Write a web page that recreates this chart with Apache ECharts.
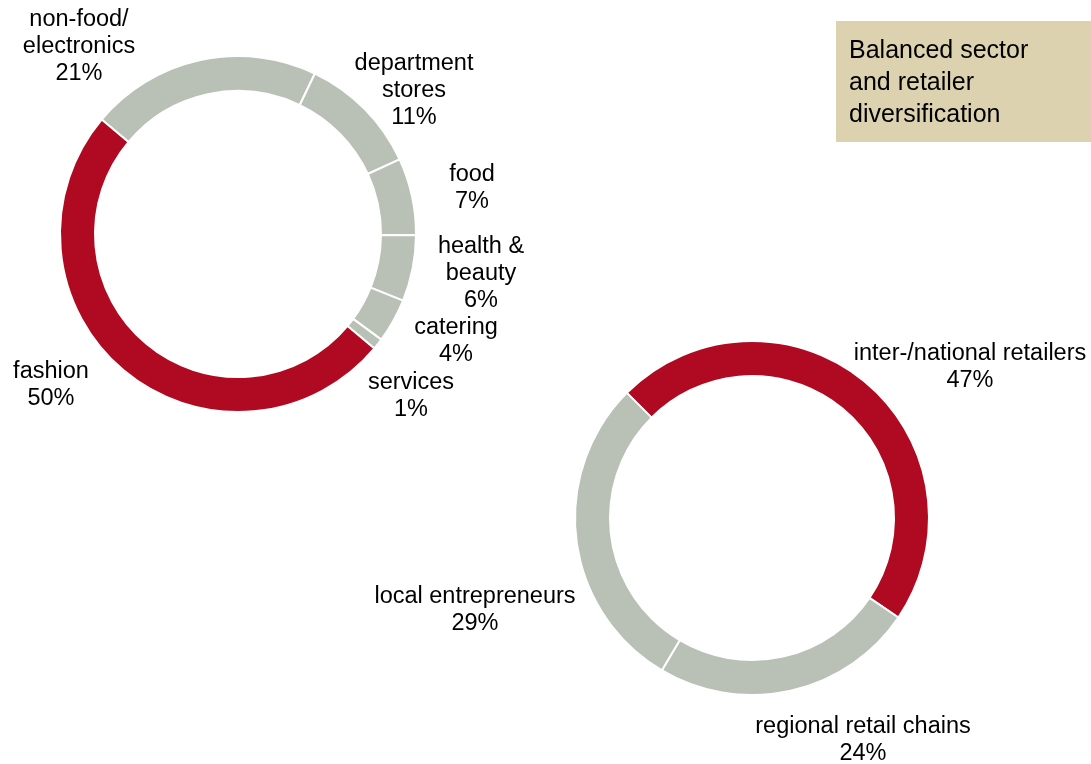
<!DOCTYPE html>
<html>
<head>
<meta charset="utf-8">
<script src="https://cdn.jsdelivr.net/npm/echarts@6/dist/echarts.min.js"></script>
<style>
html,body{margin:0;padding:0;background:#fff;}
#main{width:1091px;height:764px;}
</style>
</head>
<body>
<div id="main"></div>
<script>
// Sector split (left donut)
const sectorNames = ['non-food/\nelectronics', 'department\nstores', 'food', 'health &\nbeauty', 'catering', 'services', 'fashion'];
const sectorValues = [21, 11, 7, 6, 4, 1, 50];
// Retailer split (right donut)
const retailerNames = ['inter-/national retailers', 'regional retail chains', 'local entrepreneurs'];
const retailerValues = [47, 24, 29];
const titleText = 'Balanced sector\nand retailer\ndiversification';

const RED = '#AF0A21';
const GREY = '#B9C0B5';
const sectorColors = [GREY, GREY, GREY, GREY, GREY, GREY, RED];
const retailerColors = [RED, GREY, GREY];

// label anchor points (centre of each text block)
const sectorLabelPos = [[79, 47], [414, 91], [472, 188], [481, 274], [456, 341], [411, 396], [51, 385]];
const retailerLabelPos = [[970, 367], [863, 740], [475, 610]];

const FONT = 'Liberation Sans, Arial, sans-serif';

function buildData(names, values, colors) {
  return names.map((n, i) => ({ name: n, value: values[i], itemStyle: { color: colors[i] } }));
}

const labelStyle = {
  show: true,
  position: 'outside',
  formatter: p => p.name + '\n' + p.value + '%',
  color: '#000',
  fontFamily: FONT,
  fontSize: 23.5,
  lineHeight: 27,
  align: 'center',
  overflow: 'none',
  alignTo: 'none'
};

const chart = echarts.init(document.getElementById('main'), null, { renderer: 'canvas' });
chart.setOption({
  animation: false,
  backgroundColor: '#fff',
  series: [
    {
      type: 'pie',
      center: [238, 234],
      radius: [143, 178],
      startAngle: 140,
      clockwise: true,
      silent: true,
      avoidLabelOverlap: false,
      itemStyle: { borderColor: '#fff', borderWidth: 2 },
      label: labelStyle,
      labelLine: { show: false },
      labelLayout: p => ({ x: sectorLabelPos[p.dataIndex][0], y: sectorLabelPos[p.dataIndex][1], align: 'center', verticalAlign: 'middle' }),
      data: buildData(sectorNames, sectorValues, sectorColors)
    },
    {
      type: 'pie',
      center: [752, 518],
      radius: [142, 177],
      startAngle: 135,
      clockwise: true,
      silent: true,
      avoidLabelOverlap: false,
      itemStyle: { borderColor: '#fff', borderWidth: 2 },
      label: labelStyle,
      labelLine: { show: false },
      labelLayout: p => ({ x: retailerLabelPos[p.dataIndex][0], y: retailerLabelPos[p.dataIndex][1], align: 'center', verticalAlign: 'middle' }),
      data: buildData(retailerNames, retailerValues, retailerColors)
    }
  ],
  graphic: [
    {
      type: 'rect',
      left: 836, top: 21,
      shape: { width: 255, height: 121 },
      style: { fill: '#DCD2AF' },
      silent: true
    },
    {
      type: 'text',
      left: 849, top: 35,
      style: {
        text: titleText,
        fill: '#000',
        font: '25px ' + FONT,
        lineHeight: 32
      },
      silent: true
    }
  ]
});
</script>
</body>
</html>
